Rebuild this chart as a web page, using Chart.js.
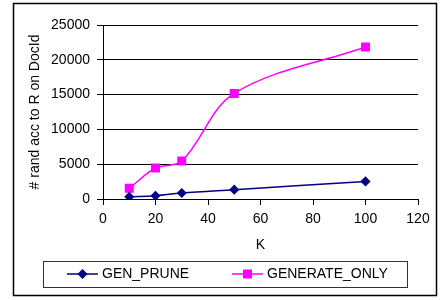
<!DOCTYPE html>
<html>
<head>
<meta charset="utf-8">
<script src="https://cdn.jsdelivr.net/npm/chart.js@4/dist/chart.umd.min.js"></script>
<style>
  body { margin: 0; background: #fff; }
  canvas { display: block; }
</style>
</head>
<body>
<canvas id="kChart" width="440" height="300"></canvas>
<script>
var kValues = [10, 20, 30, 50, 100]
var genPrune = [330, 470, 860, 1340, 2530]
var generateOnly = [1530, 4450, 5460, 15170, 21830]
var seriesNames = ["GEN_PRUNE", "GENERATE_ONLY"]
var xTicks = [0, 20, 40, 60, 80, 100, 120]
var yTicks = [0, 5000, 10000, 15000, 20000, 25000]

var FONT = "'Liberation Sans', Arial, sans-serif"

function toPoints(ys){
  return kValues.map(function(k, i){ return {x: k, y: ys[i]} })
}

// outer frame + excel style legend box
var framePlugin = {
  id: 'frame',
  afterDraw: function(chart){
    var ctx = chart.ctx
    ctx.save()
    ctx.strokeStyle = '#000'
    ctx.lineWidth = 1.5
    ctx.strokeRect(13.5, 3.5, 423, 292)

    ctx.lineWidth = 1
    ctx.strokeStyle = '#333'
    ctx.strokeRect(43.5, 261.5, 364, 26)

    var starts = [67, 232]
    var ly = 274
    chart.data.datasets.forEach(function(ds, i){
      var x0 = starts[i]
      ctx.strokeStyle = ds.borderColor
      ctx.lineWidth = ds.borderWidth
      ctx.beginPath()
      ctx.moveTo(x0, ly)
      ctx.lineTo(x0 + 31, ly)
      ctx.stroke()
      ctx.fillStyle = ds.pointBackgroundColor
      ctx.strokeStyle = ds.pointBorderColor
      Chart.helpers.drawPoint(ctx, {pointStyle: ds.pointStyle, radius: ds.pointRadius, borderWidth: 1, rotation: 0}, x0 + 15.5, ly)
      ctx.fillStyle = '#000'
      ctx.font = '14px ' + FONT
      ctx.textBaseline = 'middle'
      ctx.textAlign = 'left'
      ctx.fillText(seriesNames[i], x0 + 35, ly)
    })
    ctx.restore()
  }
}

var ctx = document.getElementById("kChart").getContext('2d')
var myChart = new Chart(ctx, {
  type: 'line',
  plugins: [framePlugin],
  data: {
    datasets: [{
      label: seriesNames[0],
      data: toPoints(genPrune),
      borderColor: '#000080',
      backgroundColor: '#000080',
      pointBackgroundColor: '#000080',
      pointBorderColor: '#000080',
      pointStyle: 'rectRot',
      pointRadius: 4,
      borderWidth: 1.5,
      tension: 0.35,
    }, {
      label: seriesNames[1],
      data: toPoints(generateOnly),
      borderColor: '#ff00ff',
      backgroundColor: '#ff00ff',
      pointBackgroundColor: '#ff00ff',
      pointBorderColor: '#ff00ff',
      pointStyle: 'rect',
      pointRadius: 5.3,
      borderWidth: 1.5,
      tension: 0.35,
    }]
  },
  options: {
    responsive: false,
    animation: false,
    devicePixelRatio: 1,
    layout: {
      padding: {left: 14, right: 22, top: 25, bottom: 46}
    },
    plugins: {
      legend: { display: false },
      tooltip: { enabled: false }
    },
    scales: {
      x: {
        type: 'linear',
        min: 0,
        max: 120,
        afterBuildTicks: function(scale){ scale.ticks = xTicks.map(function(v){ return {value: v} }) },
        ticks: { color: '#000', font: {family: FONT, size: 14}, padding: 6, maxRotation: 0 },
        grid: { drawOnChartArea: false, drawTicks: true, tickLength: 6, color: '#000' },
        border: { color: '#000', width: 1 },
        title: { display: true, text: 'K', color: '#000', font: {family: FONT, size: 14}, padding: {top: 0, bottom: 0} },
        afterFit: function(scale){ scale.height = 55 }
      },
      y: {
        min: 0,
        max: 25000,
        afterBuildTicks: function(scale){ scale.ticks = yTicks.map(function(v){ return {value: v} }) },
        ticks: { color: '#000', font: {family: FONT, size: 14}, padding: 7, callback: function(v){ return String(v) } },
        grid: { color: '#000', lineWidth: 1, drawTicks: true, tickLength: 6 },
        border: { color: '#000', width: 1 },
        title: { display: true, text: '# rand acc to R on DocId', color: '#000', font: {family: FONT, size: 14}, padding: {top: 13, bottom: 0} },
        afterFit: function(scale){ scale.width = 89 }
      }
    }
  }
})
</script>
</body>
</html>
